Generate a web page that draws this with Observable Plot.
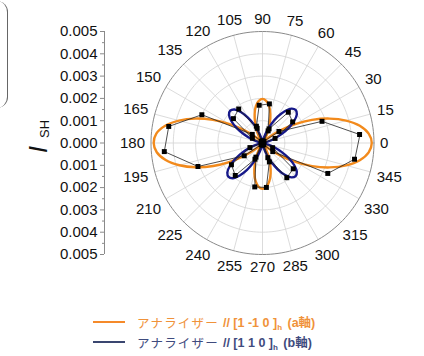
<!DOCTYPE html>
<html>
<head>
<meta charset="utf-8">
<script src="https://cdn.jsdelivr.net/npm/d3@7"></script>
<script src="https://cdn.jsdelivr.net/npm/@observablehq/plot@0.6"></script>
<style>
  html, body { margin: 0; padding: 0; background: #fff; }
  #wrap { position: relative; width: 424px; height: 356px; overflow: hidden; font-family: "Liberation Sans", Arial, sans-serif; }
  #bracket { position: absolute; left: -6px; top: 1px; width: 13px; height: 107px; border-right: 1.3px solid #666; border-radius: 0 11px 11px 0; }
  #legend { position: absolute; left: 93px; top: 312px; font-family: "Liberation Sans", "Noto Sans CJK JP", sans-serif; font-size: 12.5px; }
  .row { display: flex; align-items: center; height: 20px; white-space: nowrap; }
  .sw { display: inline-block; width: 32px; height: 1.6px; margin-right: 12px; }
  .kana { font-family: "Noto Sans CJK JP", sans-serif; letter-spacing: 1.2px; }
  .lat { font-weight: 600; }
  sub { font-size: 8px; vertical-align: -3px; margin-right: 2px; }
</style>
</head>
<body>
<div id="wrap">
  <div id="bracket"></div>
  <div id="chart"></div>
  <div id="legend"></div>
</div>
<script>
// ---- data ----
const fitAngles = d3.range(0, 360, 5);            // degrees
const orangeFitR = [
  0.00490,0.00478,0.00443,0.00388,0.00320,0.00245,0.00170,0.00101,0.00049,0.00015,0.00001,0.00005,0.00026,0.00059,0.00097,0.00136,0.00169,0.00190,
  0.00198,0.00190,0.00169,0.00136,0.00097,0.00059,0.00026,0.00005,0.00001,0.00015,0.00049,0.00101,0.00170,0.00245,0.00320,0.00388,0.00443,0.00478,
  0.00488,0.00476,0.00441,0.00386,0.00318,0.00244,0.00169,0.00101,0.00049,0.00015,0.00001,0.00005,0.00027,0.00061,0.00101,0.00141,0.00175,0.00197,
  0.00205,0.00197,0.00175,0.00141,0.00101,0.00061,0.00027,0.00005,0.00001,0.00015,0.00049,0.00101,0.00170,0.00245,0.00320,0.00388,0.00443,0.00478
];
const blueFitR = [
  0,0.00001,0.00008,0.00026,0.00056,0.00094,0.00136,0.00174,0.00201,0.00210,0.00201,0.00174,0.00136,0.00094,0.00056,0.00026,0.00008,0.00001,
  0,0.00001,0.00008,0.00026,0.00055,0.00092,0.00133,0.00170,0.00196,0.00205,0.00196,0.00170,0.00133,0.00092,0.00055,0.00026,0.00008,0.00001,
  0,0.00001,0.00009,0.00027,0.00057,0.00097,0.00139,0.00178,0.00206,0.00215,0.00206,0.00178,0.00139,0.00097,0.00057,0.00027,0.00009,0.00001,
  0,0.00001,0.00008,0.00026,0.00056,0.00094,0.00136,0.00174,0.00201,0.00210,0.00201,0.00174,0.00136,0.00094,0.00056,0.00026,0.00008,0.00001
];
const dataAngles = d3.range(5, 360, 15);          // measured angles
const orangeDataR = [0.00437,0.00284,0.00090,0.00010,0.00060,0.00178,0.00170,0.00080,0.00010,0.00060,0.00300,0.00427,
                     0.00442,0.00308,0.00100,0.00010,0.00070,0.00200,0.00200,0.00090,0.00010,0.00060,0.00323,0.00419];
const blueDataR   = [0.00002,0.00060,0.00165,0.00180,0.00070,0.00010,0.00005,0.00070,0.00186,0.00170,0.00050,0.00005,
                     0.00002,0.00060,0.00170,0.00190,0.00080,0.00010,0.00005,0.00070,0.00190,0.00180,0.00050,0.00003];
const ringValues = [0.001, 0.002, 0.003, 0.004, 0.005];
const spokeAngles = d3.range(0, 360, 15);
const angleTickLabels = ["0","15","30","45","60","75","90","105","120","135","150","165",
                         "180","195","210","225","240","255","270","285","300","315","330","345"];
const radialTicks = [-0.005,-0.004,-0.003,-0.002,-0.001,0,0.001,0.002,0.003,0.004,0.005];
const radialMinorTicks = [-0.0045,-0.0035,-0.0025,-0.0015,-0.0005,0.0005,0.0015,0.0025,0.0035,0.0045];
const legendItems = [
  {color: "#F0923A", swatch: "#F58A2A", kana: "アナライザー", axis: "// [1 -1 0 ]", sub: "h", tail: "(a軸)"},
  {color: "#3F4B7E", swatch: "#3A4670", kana: "アナライザー", axis: "// [1 1 0 ]", sub: "h", tail: "(b軸)"}
];
const ORANGE = "#F28A1C", BLUE = "#17198A";

// ---- helpers ----
const rad = a => a * Math.PI / 180;
const px = 22300;                 // pixels per unit (shared by x and y)
const xmin = -158 / px, xmax = 162 / px;
const pts = (angles, rs) => angles.map((a, i) => ({a, r: rs[i]}));
const X = d => d.r * Math.cos(rad(d.a));
const Y = d => d.r * Math.sin(rad(d.a));

const ringPts = ringValues.flatMap(r => d3.range(0, 361, 2).map(a => ({a, r, ring: r})));
const spokes = spokeAngles.map(a => ({a, r: 0.005}));
const labels = spokeAngles.map((a, i) => {
  const t = angleTickLabels[i];
  const w = 8.34 * t.length, h = 13;
  const rp = 117.5 + 0.5 * (w * Math.abs(Math.cos(rad(a))) + h * Math.abs(Math.sin(rad(a))));
  return {a, r: rp / px, t};
});

const plot = Plot.plot({
  width: 424, height: 290,
  marginLeft: 104, marginRight: 0, marginTop: 31, marginBottom: 36,
  x: {domain: [xmin, xmax], axis: null},
  y: {domain: [-0.005, 0.005], axis: null},
  style: {fontFamily: "'Liberation Sans', Arial, sans-serif", background: "transparent", overflow: "visible"},
  marks: [
    Plot.line(ringPts.filter(d => d.ring < 0.005), {x: X, y: Y, z: "ring", stroke: "#d2d2d2", strokeWidth: 0.8}),
    Plot.link(spokes, {x1: 0, y1: 0, x2: X, y2: Y, stroke: "#d2d2d2", strokeWidth: 0.8}),
    Plot.line(ringPts.filter(d => d.ring === 0.005), {x: X, y: Y, stroke: "#8a8a8a", strokeWidth: 1}),
    Plot.text(labels, {x: X, y: Y, text: "t", fontSize: 15, fill: "#111", textAnchor: "middle"}),
    // radial axis
    Plot.ruleX([xmin], {y1: -0.005, y2: 0.005, stroke: "#8a8a8a", strokeWidth: 1}),
    Plot.axisY({ticks: radialMinorTicks, tickSize: 2, tickFormat: () => "", stroke: "#8a8a8a", x: xmin}),
    Plot.axisY({ticks: radialTicks, tickSize: 4, tickPadding: 3, fontSize: 15, fill: "#111", stroke: "#8a8a8a",
                tickFormat: d => Math.abs(d).toFixed(3), label: null}),
    Plot.text(["I"], {frameAnchor: "left", y: 0, dx: -66, dy: 10, text: d => d, rotate: -90, fontSize: 25, fontStyle: "italic", fill: "#111"}),
    Plot.text(["SH"], {frameAnchor: "left", y: 0, dx: -60, dy: -5, text: d => d, rotate: -90, fontSize: 13, fill: "#111"}),
    // fits
    Plot.line(pts(fitAngles, orangeFitR), {x: X, y: Y, stroke: ORANGE, strokeWidth: 2.4, curve: "catmull-rom-closed"}),
    Plot.line(pts(fitAngles, blueFitR), {x: X, y: Y, stroke: BLUE, strokeWidth: 2.4, curve: "catmull-rom-closed"}),
    // measured
    Plot.line(pts(dataAngles, orangeDataR), {x: X, y: Y, stroke: "#222", strokeWidth: 0.8, curve: "linear-closed"}),
    Plot.line(pts(dataAngles, blueDataR), {x: X, y: Y, stroke: "#222", strokeWidth: 0.8, curve: "linear-closed"}),
    Plot.dot(pts(dataAngles, orangeDataR), {x: X, y: Y, symbol: "square", r: 2.8, fill: "#000"}),
    Plot.dot(pts(dataAngles, blueDataR), {x: X, y: Y, symbol: "square", r: 2.8, fill: "#000"})
  ]
});
document.getElementById("chart").appendChild(plot);

const lg = d3.select("#legend");
legendItems.forEach(it => {
  const row = lg.append("div").attr("class", "row").style("color", it.color);
  row.append("span").attr("class", "sw").style("background", it.swatch);
  row.append("span").attr("class", "kana").text(it.kana);
  const lat = row.append("span").attr("class", "lat").style("margin-left", "4px");
  lat.append("span").text(it.axis);
  lat.append("sub").text(it.sub);
  lat.append("span").text(" " + it.tail);
});
</script>
</body>
</html>
